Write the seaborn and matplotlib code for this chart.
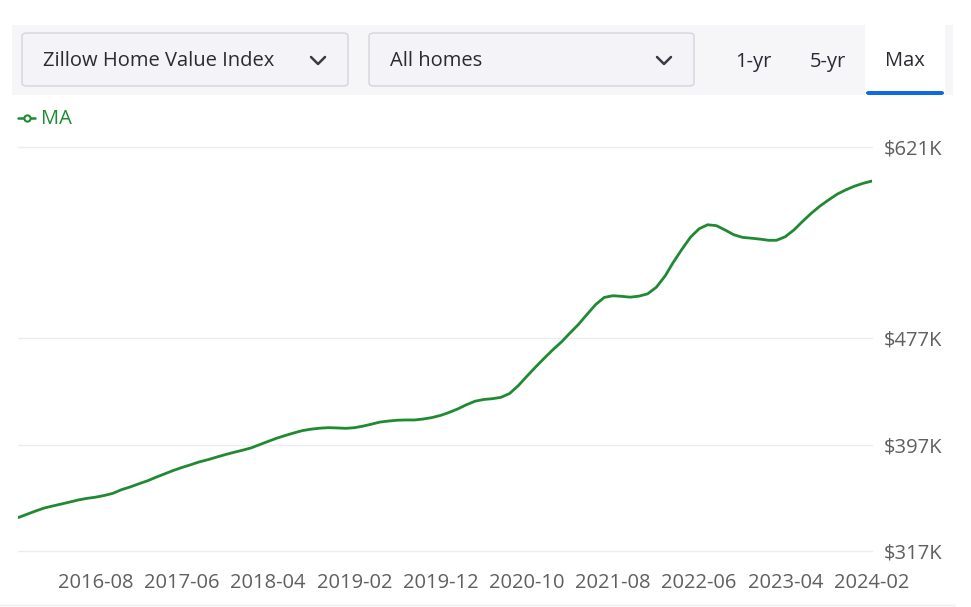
import numpy as np
import pandas as pd
import matplotlib
matplotlib.use("Agg")
import matplotlib.pyplot as plt
import matplotlib.dates as mdates
from matplotlib.patches import FancyBboxPatch, Rectangle
from matplotlib.lines import Line2D
import seaborn as sns

# ---------------- data ----------------
start_month = "2015-11"
values_k = [
    342.1, 344.5, 347.0, 349.3, 350.8, 352.3, 353.8, 355.4, 356.6, 357.5,
    358.8, 360.4, 363.2, 365.2, 367.6, 369.9, 372.4, 375.0, 377.5, 379.8,
    381.8, 384.0, 385.7, 387.6, 389.5, 391.2, 392.8, 394.6, 396.9, 399.4,
    401.8, 403.9, 405.8, 407.6, 408.7, 409.4, 409.8, 409.6, 409.3, 409.8,
    410.9, 412.4, 414.0, 414.8, 415.4, 415.6, 415.6, 416.3, 417.4, 419.0,
    421.3, 424.0, 427.0, 429.7, 431.0, 431.6, 432.6, 435.5, 441.5, 448.5,
    455.5, 462.0, 468.5, 474.5, 480.8, 487.5, 495.0, 502.5, 507.8, 509.1,
    508.6, 508.0, 508.8, 510.5, 515.5, 524.0, 534.0, 544.0, 553.0, 559.5,
    562.5, 561.8, 558.5, 555.0, 553.0, 552.4, 551.7, 550.8, 550.8, 553.5,
    558.5, 565.0, 571.0, 576.5, 581.2, 585.5, 588.8, 591.5, 593.7, 595.4,
]
y_ticks_k = [317, 397, 477, 621]
y_tick_labels = ["$317K", "$397K", "$477K", "$621K"]
x_tick_labels = ["2016-08", "2017-06", "2018-04", "2019-02", "2019-12",
                 "2020-10", "2021-08", "2022-06", "2023-04", "2024-02"]
series_name = "MA"
dropdown_labels = ["Zillow Home Value Index", "All homes"]
range_labels = ["1-yr", "5-yr", "Max"]

dates = pd.date_range(start=start_month, periods=len(values_k), freq="MS")
df = pd.DataFrame({"date": dates, "value": values_k, "region": series_name})

# ---------------- style ----------------
sns.set_theme(style="white")
plt.rcParams["font.family"] = ["Open Sans", "DejaVu Sans"]

W, H = 971, 607
fig = plt.figure(figsize=(W / 100, H / 100), dpi=100)
fig.patch.set_facecolor("white")

def fx(px):
    return px / W

def fy(py):
    return 1 - py / H

GREEN = "#1f8a31"
GREY_TXT = "#5f5f5f"
FS = 14.5

# ---------------- axes ----------------
ax = fig.add_axes([fx(18), fy(551), fx(872) - fx(18), fy(147) - fy(551)])
sns.lineplot(data=df, x="date", y="value", ax=ax, color=GREEN, linewidth=2.0,
             legend=False)
ax.set_xlim(dates[0], dates[-1])
ax.set_ylim(y_ticks_k[0], y_ticks_k[-1])
for s in ax.spines.values():
    s.set_visible(False)
ax.set_xlabel("")
ax.set_ylabel("")
ax.yaxis.tick_right()
ax.set_yticks(y_ticks_k)
ax.set_yticklabels(y_tick_labels)
for yv in y_ticks_k:
    ax.axhline(yv, color="#ececec", linewidth=1.0, zorder=0, clip_on=False)
xt = [pd.Timestamp(t + "-01") for t in x_tick_labels]
ax.set_xticks(xt)
ax.set_xticklabels(x_tick_labels)
ax.tick_params(axis="both", length=0, labelsize=FS, colors=GREY_TXT)
ax.tick_params(axis="x", pad=15.5)
ax.tick_params(axis="y", pad=8.5)
ax.grid(False)

# ---------------- header ----------------
fig.patches.append(Rectangle((fx(12), fy(95)), fx(953) - fx(12), fy(25) - fy(95),
                             transform=fig.transFigure, facecolor="#f6f6f9",
                             edgecolor="none", zorder=0))
for (x0, x1), lab in zip([(22, 348), (369, 694)], dropdown_labels):
    fig.patches.append(FancyBboxPatch((fx(x0), fy(86)), fx(x1) - fx(x0), fy(33) - fy(86),
                                      boxstyle="round,pad=0,rounding_size=0.005",
                                      transform=fig.transFigure, facecolor="#f4f4f8",
                                      edgecolor="#d4d4dc", linewidth=1.0, zorder=1))
    fig.text(fx(x0 + 21), fy(61.5), lab, fontsize=FS, color="#2a2a33",
             va="center", ha="left")
    cx = x1 - 30
    fig.lines.append(Line2D([fx(cx - 7), fx(cx), fx(cx + 7)], [fy(57), fy(64), fy(57)],
                            transform=fig.transFigure, color="#3a3a44", linewidth=1.8))
fig.patches.append(Rectangle((fx(865), fy(95)), fx(945) - fx(865), fy(25) - fy(95),
                             transform=fig.transFigure, facecolor="white",
                             edgecolor="none", zorder=1))
fig.patches.append(FancyBboxPatch((fx(866), fy(95)), fx(944) - fx(866), fy(91) - fy(95),
                                  boxstyle="round,pad=0,rounding_size=0.003",
                                  transform=fig.transFigure, facecolor="#0d6ae0",
                                  edgecolor="none", zorder=2))
for xc, lab in zip([753, 828, 905], range_labels):
    fig.text(fx(xc), fy(61.5), lab, fontsize=FS, color="#2a2a33",
             va="center", ha="center")

# ---------------- legend ----------------
fig.lines.append(Line2D([fx(18), fx(35)], [fy(118), fy(118)], transform=fig.transFigure,
                        color=GREEN, linewidth=1.8))
fig.lines.append(Line2D([fx(26.5)], [fy(118)], transform=fig.transFigure, marker="o",
                        markersize=4.5, markerfacecolor="white", markeredgecolor=GREEN,
                        markeredgewidth=1.5, linestyle="none"))
fig.text(fx(41), fy(118.5), series_name, fontsize=FS, color=GREEN, va="center", ha="left")

# bottom separator
fig.lines.append(Line2D([fx(0), fx(955)], [fy(605), fy(605)], transform=fig.transFigure,
                        color="#eeeeee", linewidth=1.0))

fig.savefig("out.png", dpi=100, facecolor="white")
